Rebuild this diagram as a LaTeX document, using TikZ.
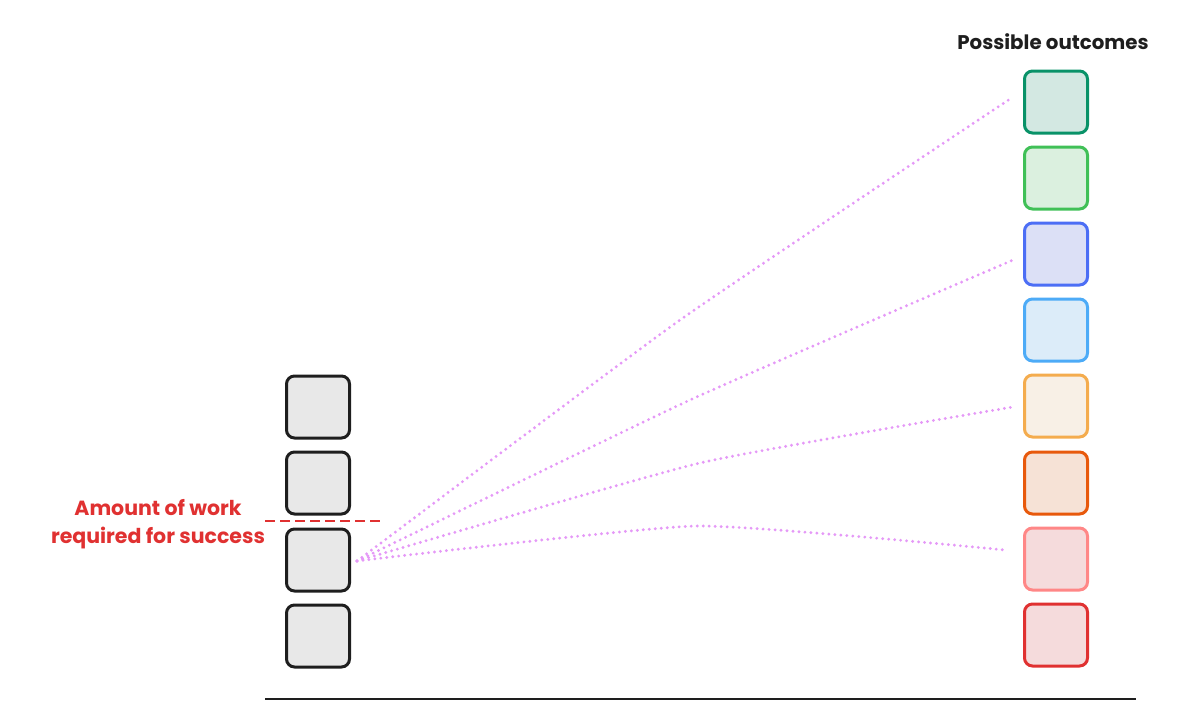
\documentclass[tikz,border=0pt]{standalone}
\usepackage{fontspec}
\setmainfont{Poppins}
\definecolor{ink}{HTML}{1E1E1E}
\definecolor{greyfill}{HTML}{E8E8E8}
\definecolor{redink}{HTML}{E03131}
\definecolor{violet}{HTML}{E599F7}
\definecolor{cA}{HTML}{099268}\definecolor{fA}{HTML}{D3E8E2}
\definecolor{cB}{HTML}{40C057}\definecolor{fB}{HTML}{DBF0DF}
\definecolor{cC}{HTML}{4C6EF5}\definecolor{fC}{HTML}{DCE0F6}
\definecolor{cD}{HTML}{4DABF7}\definecolor{fD}{HTML}{DCECF9}
\definecolor{cE}{HTML}{F4AC4E}\definecolor{fE}{HTML}{F8F0E6}
\definecolor{cF}{HTML}{E8590C}\definecolor{fF}{HTML}{F6E2D6}
\definecolor{cG}{HTML}{FF8787}\definecolor{fG}{HTML}{F5DBDC}
\definecolor{cH}{HTML}{E03131}\definecolor{fH}{HTML}{F5DBDC}
\begin{document}
\begin{tikzpicture}[x=1pt,y=-1pt,
  cell/.style={draw=ink,fill=greyfill,line width=3pt,rounded corners=8pt,minimum width=63pt,minimum height=62pt,inner sep=0pt},
  outc/.style 2 args={cell,draw=#1,fill=#2},
  link/.style={draw=violet,line width=3.2pt,line cap=round,dash pattern=on 0pt off 6pt},
  redtxt/.style={text=redink,font=\fontsize{20.5}{28}\selectfont\bfseries,align=center},
]
\useasboundingbox (0,0) rectangle (1200,728);
% left column
\node[cell] (l1) at (318,407) {};
\node[cell] (l2) at (318,483) {};
\node[cell] (l3) at (318,560) {};
\node[cell] (l4) at (318,636) {};
% right column
\node[outc={cA}{fA}] (r1) at (1056,102) {};
\node[outc={cB}{fB}] (r2) at (1056,178) {};
\node[outc={cC}{fC}] (r3) at (1056,254) {};
\node[outc={cD}{fD}] (r4) at (1056,330) {};
\node[outc={cE}{fE}] (r5) at (1056,406) {};
\node[outc={cF}{fF}] (r6) at (1056,483) {};
\node[outc={cG}{fG}] (r7) at (1056,559) {};
\node[outc={cH}{fH}] (r8) at (1056,635) {};
% texts
\node[font=\fontsize{19.8}{22}\selectfont\bfseries,text=ink] (title) at (1053,42) {Possible outcomes};
\node[redtxt] (work) at (158,524) {Amount of work\\required for success};
% threshold and axis
\coordinate (d1) at (265,521);
\coordinate (d2) at (380,521);
\draw[redink,line width=2.5pt,dash pattern=on 10pt off 5pt] (d1) -- (d2);
\coordinate (a1) at (265,699);
\coordinate (a2) at (1136,699);
\draw[ink,line width=2.5pt] (a1) -- (a2);
% links
\coordinate (s) at (357,561);
\coordinate (m1) at (680,320);
\coordinate (m2) at (690,400);
\coordinate (m3) at (700,463);
\coordinate (m4) at (697,526);
\coordinate (e1) at (1013,97);
\coordinate (e2) at (1013,260);
\coordinate (e3) at (1013,407);
\coordinate (e4) at (1005,550);
\draw[link] plot[smooth,tension=0.3] coordinates {(s) (m1) (e1)};
\draw[link] plot[smooth,tension=0.3] coordinates {(s) (m2) (e2)};
\draw[link] plot[smooth,tension=0.3] coordinates {(s) (m3) (e3)};
\draw[link] plot[smooth,tension=0.3] coordinates {(s) (m4) (e4)};
\end{tikzpicture}
\end{document}
